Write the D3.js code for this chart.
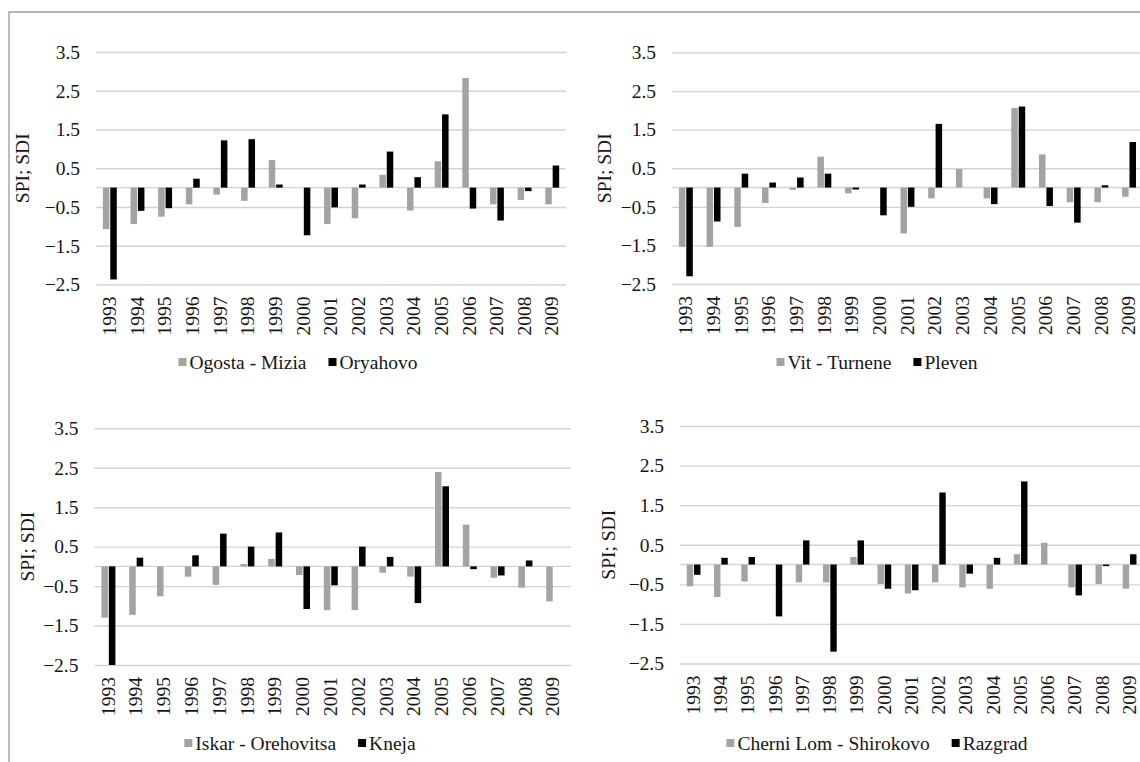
<!DOCTYPE html>
<html>
<head>
<meta charset="utf-8">
<script src="https://cdn.jsdelivr.net/npm/d3@7"></script>
<style>
body { margin: 0; background: #fff; }
svg { display: block; }
svg text { font-family: "Liberation Serif", "DejaVu Serif", serif; }
</style>
</head>
<body>
<svg width="1140" height="762"></svg>
<script>
const years = ["1993", "1994", "1995", "1996", "1997", "1998", "1999", "2000", "2001",
    "2002", "2003", "2004", "2005", "2006", "2007", "2008", "2009"];
const yTicks = [3.5, 2.5, 1.5, 0.5, -0.5, -1.5, -2.5];
const yDomain = [-2.5, 3.5];
const axisTitle = "SPI; SDI";

// SPI (river station, grey) and SDI (meteo station, black)
const ogostaMizia = [-1.07, -0.94, -0.75, -0.43, -0.18, -0.34, 0.71, 0, -0.94, -0.79, 0.33, -0.59, 0.68, 2.83, -0.43, -0.32, -0.43];
const oryahovo = [-2.37, -0.60, -0.53, 0.23, 1.22, 1.25, 0.08, -1.23, -0.51, 0.08, 0.93, 0.27, 1.89, -0.54, -0.85, -0.09, 0.57];

const vitTurnene = [-1.54, -1.54, -1.02, -0.40, -0.06, 0.80, -0.15, 0, -1.19, -0.28, 0.48, -0.28, 2.06, 0.86, -0.38, -0.38, -0.24];
const pleven = [-2.30, -0.88, 0.36, 0.13, 0.26, 0.36, -0.05, -0.72, -0.50, 1.65, 0, -0.43, 2.10, -0.48, -0.91, 0.06, 1.18];

const iskarOrehovitsa = [-1.30, -1.23, -0.76, -0.26, -0.47, 0.06, 0.19, -0.22, -1.11, -1.11, -0.16, -0.26, 2.39, 1.06, -0.29, -0.54, -0.89];
const kneja = [-2.50, 0.22, 0, 0.28, 0.83, 0.50, 0.86, -1.08, -0.48, 0.50, 0.24, -0.93, 2.03, -0.07, -0.23, 0.15, 0];

const cherniLomShirokovo = [-0.55, -0.82, -0.43, 0, -0.45, -0.45, 0.19, -0.49, -0.73, -0.45, -0.58, -0.61, 0.26, 0.55, -0.58, -0.49, -0.61];
const razgrad = [-0.26, 0.17, 0.19, -1.31, 0.61, -2.20, 0.61, -0.61, -0.65, 1.82, -0.23, 0.17, 2.10, 0, -0.78, -0.04, 0.26];

const panels = [
    { names: ["Ogosta - Mizia", "Oryahovo"], values: [ogostaMizia, oryahovo],
      x0: 96, band: 27.65, gridEnd: 566, yTop: 52, yBottom: 284.5, titleX: 22, legendX: 298, legendY: 362 },
    { names: ["Vit - Turnene", "Pleven"], values: [vitTurnene, pleven],
      x0: 672, band: 27.7, gridEnd: 1146, yTop: 52.5, yBottom: 284, titleX: 604, legendX: 877, legendY: 362 },
    { names: ["Iskar - Orehovitsa", "Kneja"], values: [iskarOrehovitsa, kneja],
      x0: 94.5, band: 27.8, gridEnd: 571, yTop: 428.3, yBottom: 665, titleX: 27, legendX: 300, legendY: 743 },
    { names: ["Cherni Lom - Shirokovo", "Razgrad"], values: [cherniLomShirokovo, razgrad],
      x0: 680, band: 27.25, gridEnd: 1146, yTop: 426, yBottom: 663.5, titleX: 608, legendX: 877, legendY: 743 }
];

const colors = ["#a3a3a3", "#000000"];
const textColor = "#161616";
const gridColor = "#d3d3d3";
const fontSize = 19.5;
const fontFamily = "'Liberation Serif', 'DejaVu Serif', serif";

function styleText(sel) {
    sel.attr("fill", textColor)
        .attr("font-family", fontFamily)
        .style("font-family", fontFamily)
        .style("font-size", fontSize + "px");
}

function drawPanel(svg, p) {
    const g = svg.append("g");

    const scaleX = d3.scaleBand()
        .domain(years)
        .range([p.x0, p.x0 + p.band * years.length]);

    const scaleSub = d3.scaleBand()
        .domain([0, 1])
        .range([0, scaleX.bandwidth()])
        .paddingInner(0.12)
        .paddingOuter(0.93);

    const scaleY = d3.scaleLinear()
        .domain(yDomain)
        .range([p.yBottom, p.yTop]);

    // gridlines
    const grid = g.append("g")
        .attr("transform", `translate(${p.x0}, 0)`)
        .call(d3.axisLeft(scaleY).tickValues(yTicks).tickSize(-(p.gridEnd - p.x0)).tickFormat(""));
    grid.select(".domain").remove();
    grid.selectAll("line").attr("stroke", gridColor).attr("stroke-width", 1.4);

    // zero axis line
    g.append("line")
        .attr("x1", p.x0).attr("x2", p.gridEnd)
        .attr("y1", scaleY(0)).attr("y2", scaleY(0))
        .attr("stroke", gridColor).attr("stroke-width", 1.4);

    // y labels
    const axisY = g.append("g")
        .attr("transform", `translate(${p.x0}, 0)`)
        .call(d3.axisLeft(scaleY).tickValues(yTicks).tickSize(0).tickPadding(16).tickFormat(d3.format(".1f")));
    axisY.attr("font-family", null).attr("font-size", null);
    axisY.select(".domain").remove();
    styleText(axisY.selectAll("text"));

    // x labels at the bottom of the plot
    const axisX = g.append("g")
        .attr("transform", `translate(0, ${scaleY(yDomain[0])})`)
        .call(d3.axisBottom(scaleX).tickSize(0));
    axisX.attr("font-family", null).attr("font-size", null);
    axisX.select(".domain").remove();
    axisX.selectAll("text")
        .attr("transform", "rotate(-90)")
        .attr("x", -12)
        .attr("y", 0)
        .attr("dy", "0.32em")
        .style("text-anchor", "end");
    styleText(axisX.selectAll("text"));

    // bars
    p.values.forEach((series, s) => {
        g.append("g")
            .selectAll("rect")
            .data(series)
            .enter()
            .append("rect")
            .attr("x", (d, i) => scaleX(years[i]) + scaleSub(s))
            .attr("width", scaleSub.bandwidth())
            .attr("y", d => scaleY(Math.max(0, d)))
            .attr("height", d => Math.abs(scaleY(d) - scaleY(0)))
            .attr("fill", colors[s]);
    });

    // y title
    const title = g.append("text")
        .attr("transform", `translate(${p.titleX}, ${(p.yTop + p.yBottom) / 2}) rotate(-90)`)
        .attr("text-anchor", "middle")
        .attr("dy", "0.35em")
        .text(axisTitle);
    styleText(title);

    // legend
    const legend = g.append("g");
    const sq = 8, gapSq = 3, gapItem = 22;
    let cur = 0;
    p.names.forEach((name, s) => {
        legend.append("rect")
            .attr("x", cur).attr("y", -sq / 2)
            .attr("width", sq).attr("height", sq)
            .attr("fill", colors[s]);
        const t = legend.append("text")
            .attr("x", cur + sq + gapSq)
            .attr("y", 0)
            .attr("dy", "0.35em")
            .text(name);
        styleText(t);
        cur += sq + gapSq + t.node().getComputedTextLength() + gapItem;
    });
    const total = cur - gapItem;
    legend.attr("transform", `translate(${p.legendX - total / 2}, ${p.legendY})`);
}

const svg = d3.select("svg");

// frame lines of the pasted figure
svg.append("path")
    .attr("d", "M9,762V12H1140")
    .attr("fill", "none")
    .attr("stroke", "#9a9a9a")
    .attr("stroke-width", 1.3);

panels.forEach(p => drawPanel(svg, p));
</script>
</body>
</html>
